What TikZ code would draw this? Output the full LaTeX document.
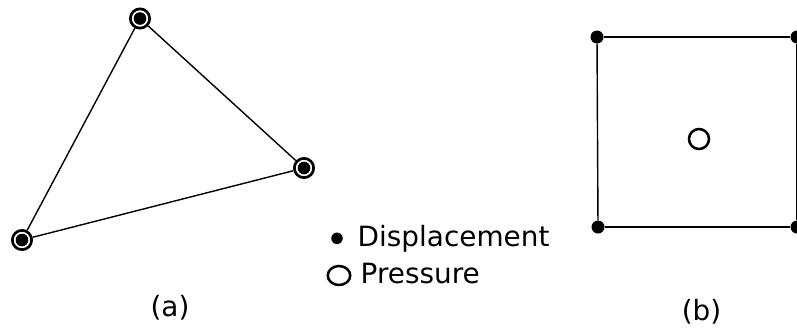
\documentclass[tikz,border=0pt]{standalone}
\usepackage{fontspec}
\setmainfont{DejaVu Sans}
\usetikzlibrary{shapes.geometric,positioning}

\begin{document}
\begin{tikzpicture}[x=1bp, y=-1bp, every node/.style={font=\fontsize{28}{33}\selectfont}]
        \tikzstyle{disp} = [circle, fill=black, inner sep=0pt, minimum size=13bp]
        \tikzstyle{both} = [circle, draw=black, line width=2.7bp, inner sep=0pt, minimum size=19.3bp,
            path picture={\fill[black] (path picture bounding box.center) circle (6.3bp);}]
        \tikzstyle{pres} = [circle, draw=black, line width=2.5bp, inner sep=0pt, minimum size=20bp]
        \tikzstyle{edge} = [line width=1.4bp]
        \tikzstyle{legtext} = [anchor=base west, inner sep=0pt]

        \useasboundingbox (0,0) rectangle (797,329);

        % (a) triangle
        \node (ttop) [both] at (140,18.5) {};
        \node (tright) [both] at (304,168) {};
        \node (tleft) [both] at (22,240) {};
        \draw [edge] (ttop) -- (tright);
        \draw [edge] (tright) -- (tleft);
        \draw [edge] (tleft) -- (ttop);
        \node (capa) [inner sep=0pt] at (170,308) {(a)};

        % (b) square
        \node (snw) [disp] at (597,37) {};
        \node (sne) [disp] at (797,37) {};
        \node (sse) [disp] at (797,227) {};
        \node (ssw) [disp] at (598,227) {};
        \node (smid) [pres] at (699,139) {};
        \draw [edge] (snw) -- (sne);
        \draw [edge] (sne) -- (sse);
        \draw [edge] (sse) -- (ssw);
        \draw [edge] (ssw) -- (snw);
        \node (capb) [inner sep=0pt] at (701.5,312) {(b)};

        % legend
        \node (ldisp) [disp, minimum size=11.5bp] at (337,238.3) {};
        \node (lpres) [pres, ellipse, minimum width=22.5bp, minimum height=19bp] at (339,275.5) {};
        \node (tdisp) [legtext] at (357.5,246.5) {Displacement};
        \node (tpres) [legtext] at (360.5,283.5) {Pressure};
    \end{tikzpicture}
\end{document}
